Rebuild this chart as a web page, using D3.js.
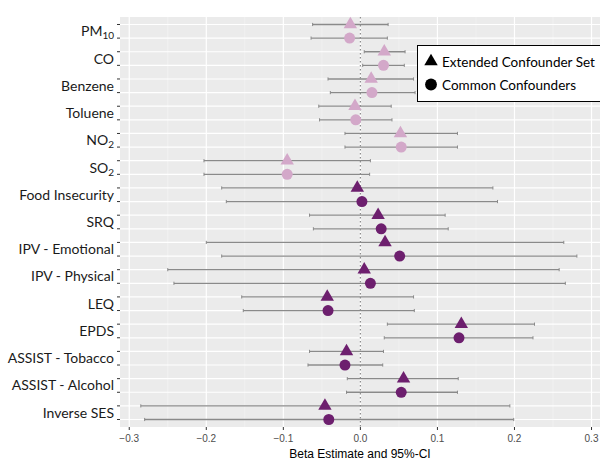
<!DOCTYPE html>
<html>
<head>
<meta charset="utf-8">
<script src="https://cdn.jsdelivr.net/npm/d3@7"></script>
<style>
  body { margin: 0; background: #fff; }
  svg { display: block; }
</style>
</head>
<body>
<svg id="chart" width="600" height="461"></svg>
<script>
// categories, top to bottom; [main text, subscript]
const categories = [
  ['PM', '10'], ['CO', ''], ['Benzene', ''], ['Toluene', ''], ['NO', '2'], ['SO', '2'],
  ['Food Insecurity', ''], ['SRQ', ''], ['IPV - Emotional', ''], ['IPV - Physical', ''],
  ['LEQ', ''], ['EPDS', ''], ['ASSIST - Tobacco', ''], ['ASSIST - Alcohol', ''], ['Inverse SES', '']
];
const environmental = [true, true, true, true, true, true, false, false, false, false, false, false, false, false, false];

// Extended Confounder Set
const extEst = [-0.013, 0.031, 0.014, -0.007, 0.052, -0.095, -0.004, 0.023, 0.032, 0.005, -0.043, 0.131, -0.018, 0.056, -0.046];
const extLo  = [-0.062, 0.005, -0.042, -0.054, -0.020, -0.203, -0.180, -0.066, -0.200, -0.250, -0.154, 0.035, -0.066, -0.017, -0.285];
const extHi  = [0.036, 0.058, 0.069, 0.040, 0.126, 0.013, 0.172, 0.110, 0.264, 0.258, 0.069, 0.226, 0.030, 0.127, 0.194];

// Common Confounders
const comEst = [-0.014, 0.030, 0.015, -0.006, 0.053, -0.095, 0.002, 0.027, 0.051, 0.013, -0.042, 0.128, -0.020, 0.053, -0.041];
const comLo  = [-0.064, 0.003, -0.039, -0.053, -0.020, -0.203, -0.174, -0.061, -0.180, -0.242, -0.152, 0.031, -0.068, -0.018, -0.280];
const comHi  = [0.035, 0.057, 0.071, 0.041, 0.126, 0.012, 0.178, 0.114, 0.281, 0.266, 0.070, 0.224, 0.029, 0.126, 0.199];

const xTicks = [-0.3, -0.2, -0.1, 0.0, 0.1, 0.2, 0.3];
const xMinor = [-0.25, -0.15, -0.05, 0.05, 0.15, 0.25];
const groups = ['ext', 'com'];
const legendLabels = ['Extended Confounder Set', 'Common Confounders'];

const colPink = '#d3a8c9';
const colPurple = '#6d1f6e';

const svg = d3.select('#chart');
const panel = { left: 120, right: 600, top: 17, bottom: 427 };

// 한 카테고리 안에 두 줄 (ext 위, com 아래)
const rows = [];
categories.forEach((c, i) => {
  rows.push({ i, key: i + '|ext', group: 'ext', est: extEst[i], lo: extLo[i], hi: extHi[i] });
  rows.push({ i, key: i + '|com', group: 'com', est: comEst[i], lo: comLo[i], hi: comHi[i] });
});

const x = d3.scaleLinear().domain([-0.312, 0.311]).range([panel.left, panel.right]);
const y = d3.scalePoint().domain(rows.map(d => d.key)).range([panel.top, panel.bottom]).padding(0.55);

// panel background
svg.append('rect')
  .attr('x', panel.left).attr('y', panel.top)
  .attr('width', panel.right - panel.left).attr('height', panel.bottom - panel.top)
  .attr('fill', '#ebebeb');

// minor vertical grid
svg.append('g').selectAll('line').data(xMinor).enter().append('line')
  .attr('x1', d => x(d)).attr('x2', d => x(d))
  .attr('y1', panel.top).attr('y2', panel.bottom)
  .attr('stroke', '#f5f5f5').attr('stroke-width', 0.6);

// major vertical grid
svg.append('g').selectAll('line').data(xTicks).enter().append('line')
  .attr('x1', d => x(d)).attr('x2', d => x(d))
  .attr('y1', panel.top).attr('y2', panel.bottom)
  .attr('stroke', '#fff').attr('stroke-width', 1.2);

// horizontal grid
svg.append('g').selectAll('line').data(rows).enter().append('line')
  .attr('x1', panel.left).attr('x2', panel.right)
  .attr('y1', d => y(d.key)).attr('y2', d => y(d.key))
  .attr('stroke', '#fff').attr('stroke-width', 1.2);

// zero reference line
svg.append('line')
  .attr('x1', x(0)).attr('x2', x(0))
  .attr('y1', panel.top).attr('y2', panel.bottom)
  .attr('stroke', '#8c8c8c').attr('stroke-width', 1.2)
  .attr('stroke-dasharray', '1.5,2.5');

// error bars
const bars = svg.append('g').selectAll('g').data(rows).enter().append('g');
bars.append('line')
  .attr('x1', d => x(d.lo)).attr('x2', d => x(d.hi))
  .attr('y1', d => y(d.key)).attr('y2', d => y(d.key))
  .attr('stroke', '#8a8a8a').attr('stroke-width', 1.3);
bars.selectAll('line.cap').data(d => [d.lo, d.hi].map(v => ({ v, key: d.key }))).enter()
  .append('line').attr('class', 'cap')
  .attr('x1', d => x(d.v)).attr('x2', d => x(d.v))
  .attr('y1', d => y(d.key) - 1.6).attr('y2', d => y(d.key) + 1.6)
  .attr('stroke', '#8a8a8a').attr('stroke-width', 1);

// points
const triangle = d3.symbol().type(d3.symbolTriangle).size(78);
svg.append('g').selectAll('path').data(rows).enter().append('path')
  .attr('transform', d => `translate(${x(d.est)},${y(d.key)})`)
  .attr('d', d => d.group === 'ext' ? triangle() : d3.symbol().type(d3.symbolCircle).size(95)())
  .attr('fill', d => environmental[d.i] ? colPink : colPurple);

// y axis ticks
svg.append('g').selectAll('line').data(rows).enter().append('line')
  .attr('x1', panel.left - 3).attr('x2', panel.left)
  .attr('y1', d => y(d.key)).attr('y2', d => y(d.key))
  .attr('stroke', '#333').attr('stroke-width', 1);

// y labels (between the two rows)
const ylab = svg.append('g').selectAll('text').data(categories).enter().append('text')
  .attr('x', panel.left - 6)
  .attr('y', (d, i) => (y(i + '|ext') + y(i + '|com')) / 2 + 5)
  .attr('text-anchor', 'end')
  .style('font-family', 'Lato, "Open Sans", sans-serif')
  .style('font-size', '14px')
  .style('fill', '#1a1a1a');
ylab.append('tspan').text(d => d[0]);
ylab.filter(d => d[1]).append('tspan')
  .attr('dy', 3).style('font-size', '10px').text(d => d[1]);

// x axis ticks + labels
svg.append('g').selectAll('line').data(xTicks).enter().append('line')
  .attr('x1', d => x(d)).attr('x2', d => x(d))
  .attr('y1', panel.bottom).attr('y2', panel.bottom + 3)
  .attr('stroke', '#333');
svg.append('g').selectAll('text').data(xTicks).enter().append('text')
  .attr('x', d => x(d)).attr('y', panel.bottom + 15)
  .attr('text-anchor', 'middle')
  .style('font-family', '"Liberation Sans", Arial, sans-serif')
  .style('font-size', '10px')
  .style('fill', '#4d4d4d')
  .text(d => d3.format('.1f')(d));

// x title
svg.append('text')
  .attr('x', (panel.left + panel.right) / 2).attr('y', 458)
  .attr('text-anchor', 'middle')
  .style('font-family', '"Liberation Sans", Arial, sans-serif')
  .style('font-size', '12px')
  .style('fill', '#000')
  .text('Beta Estimate and 95%-CI');

// legend
const lg = svg.append('g');
lg.append('rect')
  .attr('x', 417.5).attr('y', 45.5).attr('width', 200).attr('height', 56)
  .attr('fill', '#fff').attr('stroke', '#000').attr('stroke-width', 1);
const legendY = [61.5, 84.5];
lg.selectAll('path').data(groups).enter().append('path')
  .attr('transform', (d, i) => `translate(431,${legendY[i]})`)
  .attr('d', d => d === 'ext' ? triangle() : d3.symbol().type(d3.symbolCircle).size(110)())
  .attr('fill', '#000');
lg.selectAll('text').data(legendLabels).enter().append('text')
  .attr('x', 442).attr('y', (d, i) => legendY[i] + 5)
  .style('font-family', 'Lato, "Open Sans", sans-serif')
  .style('font-size', '13.5px')
  .style('fill', '#000')
  .text(d => d);
</script>
</body>
</html>
